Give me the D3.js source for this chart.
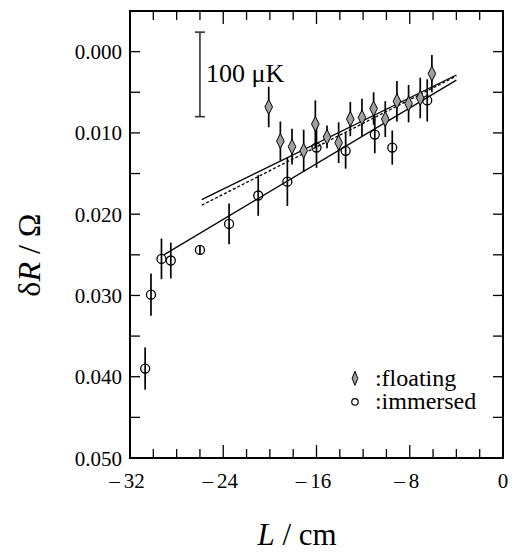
<!DOCTYPE html>
<html>
<head>
<meta charset="utf-8">
<script src="https://cdn.jsdelivr.net/npm/d3@7"></script>
<style>
  body { margin: 0; background: #fff; }
</style>
</head>
<body>
<div id="my_dataviz"></div>
<script>
// immersed points: L (cm), dR (ohm), error bar half-length
const immersedL = [-30.7, -30.2, -29.3, -28.5, -26.0, -23.5, -21.0, -18.5, -16.0, -13.5, -11.0, -9.5, -6.5];
const immersedR = [0.0390, 0.0299, 0.0255, 0.0257, 0.0244, 0.0212, 0.0177, 0.0160, 0.0118, 0.0122, 0.0102, 0.0118, 0.0060];
const immersedErr = [0.0026, 0.0026, 0.0025, 0.0022, 0.0005, 0.0025, 0.0025, 0.0030, 0.0025, 0.0022, 0.0023, 0.0021, 0.0026];

// floating points
const floatingL = [-20.1, -19.1, -18.1, -17.1, -16.1, -15.1, -14.1, -13.1, -12.1, -11.1, -10.1, -9.1, -8.1, -7.1, -6.1];
const floatingR = [0.0068, 0.0110, 0.0117, 0.0122, 0.0089, 0.0105, 0.0112, 0.0083, 0.0081, 0.0070, 0.0083, 0.0061, 0.0064, 0.0057, 0.0027];
const floatingErr = [0.0025, 0.0024, 0.0022, 0.0026, 0.0029, 0.0014, 0.0025, 0.0021, 0.0023, 0.0020, 0.0022, 0.0025, 0.0023, 0.0025, 0.0023];

// fit lines (end points)
const fitFloating = [[-25.85, 0.0182], [-4.0, 0.00287]];
const fitFloatingAlt = [[-25.85, 0.0189], [-4.0, 0.0030]];
const fitImmersed = [[-29.1, 0.0250], [-4.0, 0.0035]];

// 100 uK scale bar, in ohm units
const scaleBarL = -26.0;
const scaleBarR = [-0.0024, 0.0080];

const xTicks = [-32, -24, -16, -8, 0];
const yTicks = [0.000, 0.010, 0.020, 0.030, 0.040, 0.050];

const FONT = '"Liberation Serif"';

const margin = { top: 11, right: 9, bottom: 97, left: 130 };
const width = 512 - margin.left - margin.right;
const height = 555 - margin.top - margin.bottom;

const svg = d3.select("#my_dataviz")
    .append("svg")
    .attr("width", 512)
    .attr("height", 555)
    .append("g")
    .attr("transform", `translate(${margin.left},${margin.top})`);

const x = d3.scaleLinear().domain([-32, 0]).range([0, width]);
const y = d3.scaleLinear().domain([-0.005, 0.050]).range([0, height]);

// ticks, all pointing inwards
const minorX = d3.range(-32, 0.1, 2);
const minorY = d3.range(-0.005, 0.0501, 0.005);

svg.selectAll(".xtick")
    .data(minorX)
    .enter()
    .append("g")
    .each(function (d) {
        const len = d % 8 === 0 ? 13 : 9;
        const g = d3.select(this);
        g.append("line").attr("x1", x(d)).attr("x2", x(d)).attr("y1", height).attr("y2", height - len);
        g.append("line").attr("x1", x(d)).attr("x2", x(d)).attr("y1", 0).attr("y2", len);
    })
    .selectAll("line")
    .attr("stroke", "#000")
    .attr("stroke-width", 1.3);

svg.selectAll(".ytick")
    .data(minorY)
    .enter()
    .append("g")
    .each(function (d) {
        const g = d3.select(this);
        g.append("line").attr("x1", 0).attr("x2", 10).attr("y1", y(d)).attr("y2", y(d));
        g.append("line").attr("x1", width).attr("x2", width - 10).attr("y1", y(d)).attr("y2", y(d));
    })
    .selectAll("line")
    .attr("stroke", "#000")
    .attr("stroke-width", 1.3);

svg.append("rect")
    .attr("x", 0).attr("y", 0)
    .attr("width", width).attr("height", height)
    .attr("fill", "none")
    .attr("stroke", "#000")
    .attr("stroke-width", 2);

// tick labels
svg.selectAll(".xlabel")
    .data(xTicks)
    .enter()
    .append("text")
    .attr("font-family", FONT)
    .attr("x", d => x(d) - (d < 0 ? 3 : 0))
    .attr("y", height + 30)
    .attr("text-anchor", "middle")
    .style("font-size", "21px")
    .text(d => d < 0 ? "\u2013\u2009" + Math.abs(d) : d);

svg.selectAll(".ylabel")
    .data(yTicks)
    .enter()
    .append("text")
    .attr("font-family", FONT)
    .attr("x", -8)
    .attr("y", d => y(d))
    .attr("dy", "0.36em")
    .attr("text-anchor", "end")
    .style("font-size", "21px")
    .text(d => d3.format(".3f")(d));

// axis titles
const xt = svg.append("text")
    .attr("font-family", FONT)
    .attr("text-anchor", "middle")
    .attr("x", 297 - margin.left)
    .attr("y", 545 - margin.top)
    .style("font-size", "31px");
xt.append("tspan").style("font-style", "italic").text("L");
xt.append("tspan").text(" / cm");

const yt = svg.append("text")
    .attr("font-family", FONT)
    .attr("text-anchor", "middle")
    .attr("transform", `translate(${40 - margin.left},${255 - margin.top}) rotate(-90)`)
    .style("font-size", "32px");
yt.append("tspan").text("\u03b4");
yt.append("tspan").style("font-style", "italic").text("R");
yt.append("tspan").text(" / \u03a9");

// fit lines
const line = d3.line().x(d => x(d[0])).y(d => y(d[1]));
svg.append("path").attr("d", line(fitFloating)).attr("fill", "none").attr("stroke", "#000").attr("stroke-width", 1.3);
svg.append("path").attr("d", line(fitFloatingAlt)).attr("fill", "none").attr("stroke", "#000").attr("stroke-width", 1.3).attr("stroke-dasharray", "3,2");
svg.append("path").attr("d", line(fitImmersed)).attr("fill", "none").attr("stroke", "#000").attr("stroke-width", 1.3);

// error bars
const immersed = immersedL.map((d, i) => ({ L: d, R: immersedR[i], e: immersedErr[i] }));
const floating = floatingL.map((d, i) => ({ L: d, R: floatingR[i], e: floatingErr[i] }));

svg.selectAll(".err")
    .data(immersed.concat(floating))
    .enter()
    .append("line")
    .attr("x1", d => x(d.L)).attr("x2", d => x(d.L))
    .attr("y1", d => y(d.R - d.e)).attr("y2", d => y(d.R + d.e))
    .attr("stroke", "#000")
    .attr("stroke-width", 1.7);

svg.selectAll(".circ")
    .data(immersed)
    .enter()
    .append("circle")
    .attr("cx", d => x(d.L))
    .attr("cy", d => y(d.R))
    .attr("r", 4.5)
    .attr("fill", "none")
    .attr("stroke", "#000")
    .attr("stroke-width", 1.3);

const diamond = (cx, cy, w, h) => `M${cx},${cy - h}L${cx + w},${cy}L${cx},${cy + h}L${cx - w},${cy}Z`;

svg.selectAll(".diam")
    .data(floating)
    .enter()
    .append("path")
    .attr("d", d => diamond(x(d.L), y(d.R), 3.8, 7.5))
    .attr("fill", "#a0a0a0")
    .attr("stroke", "#000")
    .attr("stroke-width", 1);

// scale bar
const sb = svg.append("g").attr("stroke", "#333").attr("stroke-width", 1.6);
sb.append("line").attr("x1", x(scaleBarL)).attr("x2", x(scaleBarL)).attr("y1", y(scaleBarR[0])).attr("y2", y(scaleBarR[1]));
scaleBarR.forEach(v => {
    sb.append("line").attr("x1", x(scaleBarL) - 5).attr("x2", x(scaleBarL) + 5).attr("y1", y(v)).attr("y2", y(v));
});
svg.append("text")
    .attr("font-family", FONT)
    .attr("x", x(scaleBarL) + 6)
    .attr("y", y(0.0037))
    .style("font-size", "26px")
    .text("100 \u03bcK");

// legend
const lx = x(-12.7);
svg.append("path").attr("d", diamond(lx, y(0.0402), 2.8, 7)).attr("fill", "#a0a0a0").attr("stroke", "#000").attr("stroke-width", 1);
svg.append("circle").attr("cx", lx).attr("cy", y(0.0431)).attr("r", 3.2).attr("fill", "none").attr("stroke", "#000").attr("stroke-width", 1.2);
svg.append("text").attr("font-family", FONT).attr("x", lx + 20).attr("y", y(0.0402)).attr("dy", "0.3em").style("font-size", "24px").text(":floating");
svg.append("text").attr("font-family", FONT).attr("x", lx + 20).attr("y", y(0.0431)).attr("dy", "0.3em").style("font-size", "24px").text(":immersed");
</script>
</body>
</html>
